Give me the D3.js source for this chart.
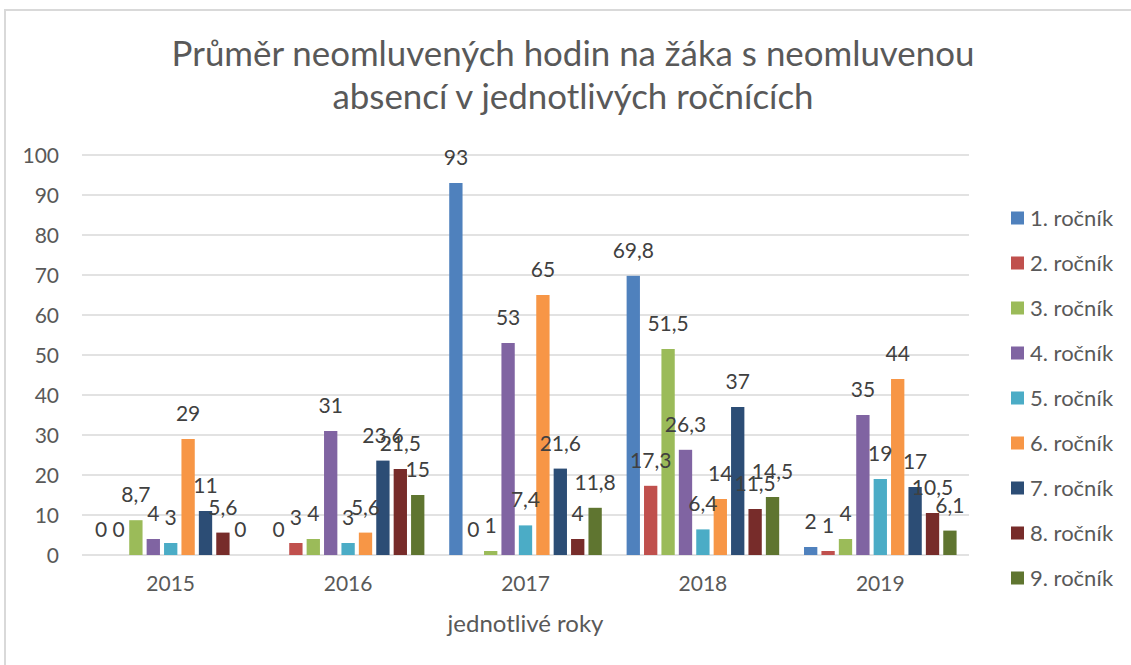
<!DOCTYPE html>
<html>
<head>
<meta charset="utf-8">
<script src="https://cdn.jsdelivr.net/npm/d3@7"></script>
<style>
  body { margin: 0; background: #fff; }
  svg { display: block; font-family: Lato, "Open Sans", sans-serif; }
</style>
</head>
<body>
<svg id="chart" width="1131" height="665"></svg>
<script>
const years = ["2015", "2016", "2017", "2018", "2019"];
const grades = ["1. ročník", "2. ročník", "3. ročník", "4. ročník", "5. ročník",
                "6. ročník", "7. ročník", "8. ročník", "9. ročník"];
const colors = ["#4F81BD", "#C0504D", "#9BBB59", "#8064A2", "#4BACC6",
                "#F79646", "#2C4D75", "#772C2A", "#5F7530"];

// values per year, one entry per grade
const values2015 = [0, 0, 8.7, 4, 3, 29, 11, 5.6, 0];
const values2016 = [0, 3, 4, 31, 3, 5.6, 23.6, 21.5, 15];
const values2017 = [93, 0, 1, 53, 7.4, 65, 21.6, 4, 11.8];
const values2018 = [69.8, 17.3, 51.5, 26.3, 6.4, 14, 37, 11.5, 14.5];
const values2019 = [2, 1, 4, 35, 19, 44, 17, 10.5, 6.1];
const yTicks = [0, 10, 20, 30, 40, 50, 60, 70, 80, 90, 100];

const titleLines = ["Průměr neomluvených hodin na žáka s neomluvenou", "absencí v jednotlivých ročnících"];
const xTitle = "jednotlivé roky";

const table = years.map((year, i) => ({
  year,
  values: [values2015, values2016, values2017, values2018, values2019][i]
}));

const svg = d3.select("#chart");

// chart frame (only top/left visible in the source crop)
svg.append("rect")
  .attr("x", 5).attr("y", 10)
  .attr("width", 1140).attr("height", 670)
  .attr("fill", "none")
  .attr("stroke", "#d9d9d9")
  .attr("stroke-width", 2);

const plot = { left: 82, right: 969, top: 155, bottom: 555 };

const y = d3.scaleLinear().domain([0, 100]).range([plot.bottom, plot.top]);
const x = d3.scaleBand().domain(years).range([plot.left, plot.right])
  .paddingInner(0.14).paddingOuter(0.07);
const xInner = d3.scaleBand().domain(d3.range(grades.length))
  .range([0, x.bandwidth()]).paddingInner(0.235);

// gridlines
svg.append("g")
  .selectAll("line")
  .data(yTicks)
  .join("line")
  .attr("x1", plot.left)
  .attr("x2", plot.right)
  .attr("y1", d => y(d))
  .attr("y2", d => y(d))
  .attr("stroke", "#d9d9d9")
  .attr("stroke-width", 1.5);

// y tick labels
svg.append("g")
  .selectAll("text")
  .data(yTicks)
  .join("text")
  .attr("x", 59)
  .attr("y", d => y(d))
  .attr("dy", "0.36em")
  .attr("text-anchor", "end")
  .attr("fill", "#595959")
  .attr("font-size", 21)
  .text(d => d);

// bars
const groups = svg.append("g")
  .selectAll("g")
  .data(table)
  .join("g")
  .attr("transform", d => `translate(${x(d.year)},0)`);

groups.selectAll("rect")
  .data(d => d.values)
  .join("rect")
  .attr("x", (d, i) => xInner(i))
  .attr("width", xInner.bandwidth())
  .attr("y", d => y(d))
  .attr("height", d => y(0) - y(d))
  .attr("fill", (d, i) => colors[i]);

// data labels (overlaps are as in the original Excel chart)
groups.selectAll("text")
  .data(d => d.values)
  .join("text")
  .attr("x", (d, i) => xInner(i) + xInner.bandwidth() / 2)
  .attr("y", d => y(d) - 18)
  .attr("text-anchor", "middle")
  .attr("fill", "#404040")
  .attr("font-size", 21)
  .text(d => String(d).replace(".", ","));

// x axis labels
svg.append("g")
  .selectAll("text")
  .data(years)
  .join("text")
  .attr("x", d => x(d) + x.bandwidth() / 2)
  .attr("y", 591)
  .attr("text-anchor", "middle")
  .attr("fill", "#595959")
  .attr("font-size", 21)
  .text(d => d);

svg.append("text")
  .attr("x", (plot.left + plot.right) / 2)
  .attr("y", 632)
  .attr("text-anchor", "middle")
  .attr("fill", "#595959")
  .attr("font-size", 24)
  .text(xTitle);

// title, sized so the first line spans roughly the same width as the original
const title = svg.append("g")
  .selectAll("text")
  .data(titleLines)
  .join("text")
  .attr("x", 573)
  .attr("y", (d, i) => 66 + i * 43)
  .attr("text-anchor", "middle")
  .attr("fill", "#595959")
  .attr("font-size", 30)
  .text(d => d);

const firstWidth = title.node().getComputedTextLength();
title.attr("font-size", 30 * 803 / firstWidth);

// legend
const legend = svg.append("g")
  .selectAll("g")
  .data(grades)
  .join("g")
  .attr("transform", (d, i) => `translate(1011,${218 + i * 45})`);

legend.append("rect")
  .attr("x", 0).attr("y", -6.5)
  .attr("width", 13).attr("height", 13)
  .attr("fill", (d, i) => colors[i]);

legend.append("text")
  .attr("x", 19)
  .attr("dy", "0.36em")
  .attr("fill", "#595959")
  .attr("font-size", 22)
  .text(d => d);
</script>
</body>
</html>
